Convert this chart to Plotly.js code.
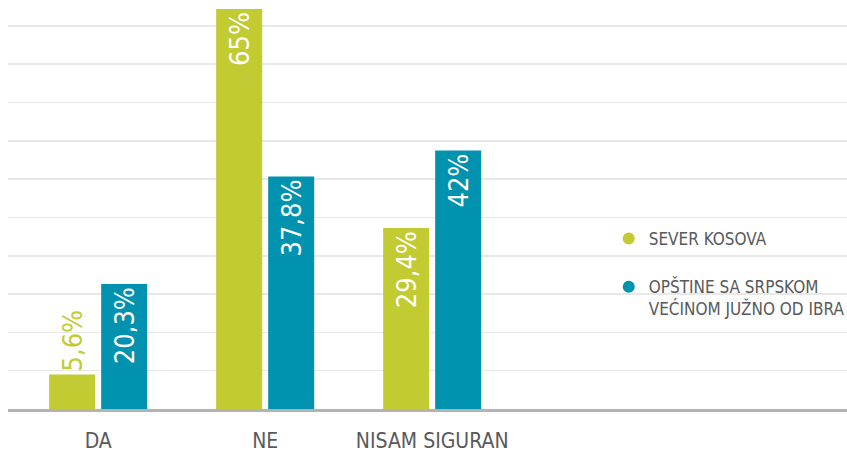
<!DOCTYPE html>
<html>
<head>
<meta charset="utf-8">
<script src="https://cdn.plot.ly/plotly-3.0.1.min.js"></script>
<style>html,body{margin:0;padding:0;background:#fff}#chart{width:847px;height:453px}</style>
</head>
<body>
<div id="chart"></div>
<script>
const categories = ['DA', 'NE', 'NISAM SIGURAN'];
const severKosova = [5.6, 65, 29.4];
const opstineJug = [20.3, 37.8, 42];
const seriesNames = ['SEVER KOSOVA', 'OPŠTINE SA SRPSKOM<br>VEĆINOM JUŽNO OD IBRA'];

const GREEN = '#c2cb32';
const BLUE = '#0092af';
const FONT = '"Liberation Sans Narrow", "DejaVu Sans Condensed", "Liberation Sans", sans-serif';
const fmt = v => String(v).replace('.', ',') + '%';

function barTrace(vals, color, positions) {
  return {
    type: 'bar', x: categories, y: vals, showlegend: false,
    marker: {color: color},
    text: vals.map(fmt), textposition: positions, textangle: -90,
    insidetextanchor: 'end',
    insidetextfont: {family: FONT, size: 27, color: '#ffffff'},
    outsidetextfont: {family: FONT, size: 27, color: color},
    cliponaxis: false, hoverinfo: 'skip'
  };
}
function legendTrace(name, color, group) {
  return {type: 'scatter', mode: 'markers', x: [null], y: [null], name: name,
    legendgroup: group,
    marker: {color: color, size: 16, symbol: 'circle'}, hoverinfo: 'skip'};
}

const data = [
  barTrace(severKosova, GREEN, ['outside', 'inside', 'inside']),
  barTrace(opstineJug, BLUE, ['inside', 'inside', 'inside']),
  legendTrace(seriesNames[0], GREEN, 'g1'),
  legendTrace(seriesNames[1], BLUE, 'g2')
];

const layout = {
  width: 847, height: 453,
  margin: {l: 8, r: 0, t: 9, b: 44, autoexpand: false},
  paper_bgcolor: '#ffffff', plot_bgcolor: '#ffffff',
  barmode: 'group', bargap: 0.377, bargroupgap: 0.115,
  uniformtext: {mode: 'show', minsize: 27},
  font: {family: FONT, color: '#58595b'},
  xaxis: {
    type: 'category', range: [-0.54, 4.484], fixedrange: true,
    showline: true, linecolor: '#b3b3b3', linewidth: 3,
    showgrid: false, ticks: '', ticklabelstandoff: 11,
    tickfont: {family: FONT, size: 21, color: '#58595b'}
  },
  yaxis: {
    range: [0, 65], tick0: 0, dtick: 6.225, showticklabels: false,
    showgrid: true, gridcolor: '#e8e8e8', gridwidth: 1.5,
    zeroline: false, showline: false, fixedrange: true
  },
  legend: {
    x: 0.716, xanchor: 'left', y: 0.47, yanchor: 'top',
    valign: 'top', traceorder: 'grouped', tracegroupgap: 23, itemsizing: 'constant',
    font: {family: FONT, size: 17, color: '#58595b'},
    bgcolor: 'rgba(0,0,0,0)'
  },
  showlegend: true
};

Plotly.newPlot('chart', data, layout, {displayModeBar: false, staticPlot: true});
</script>
</body>
</html>
